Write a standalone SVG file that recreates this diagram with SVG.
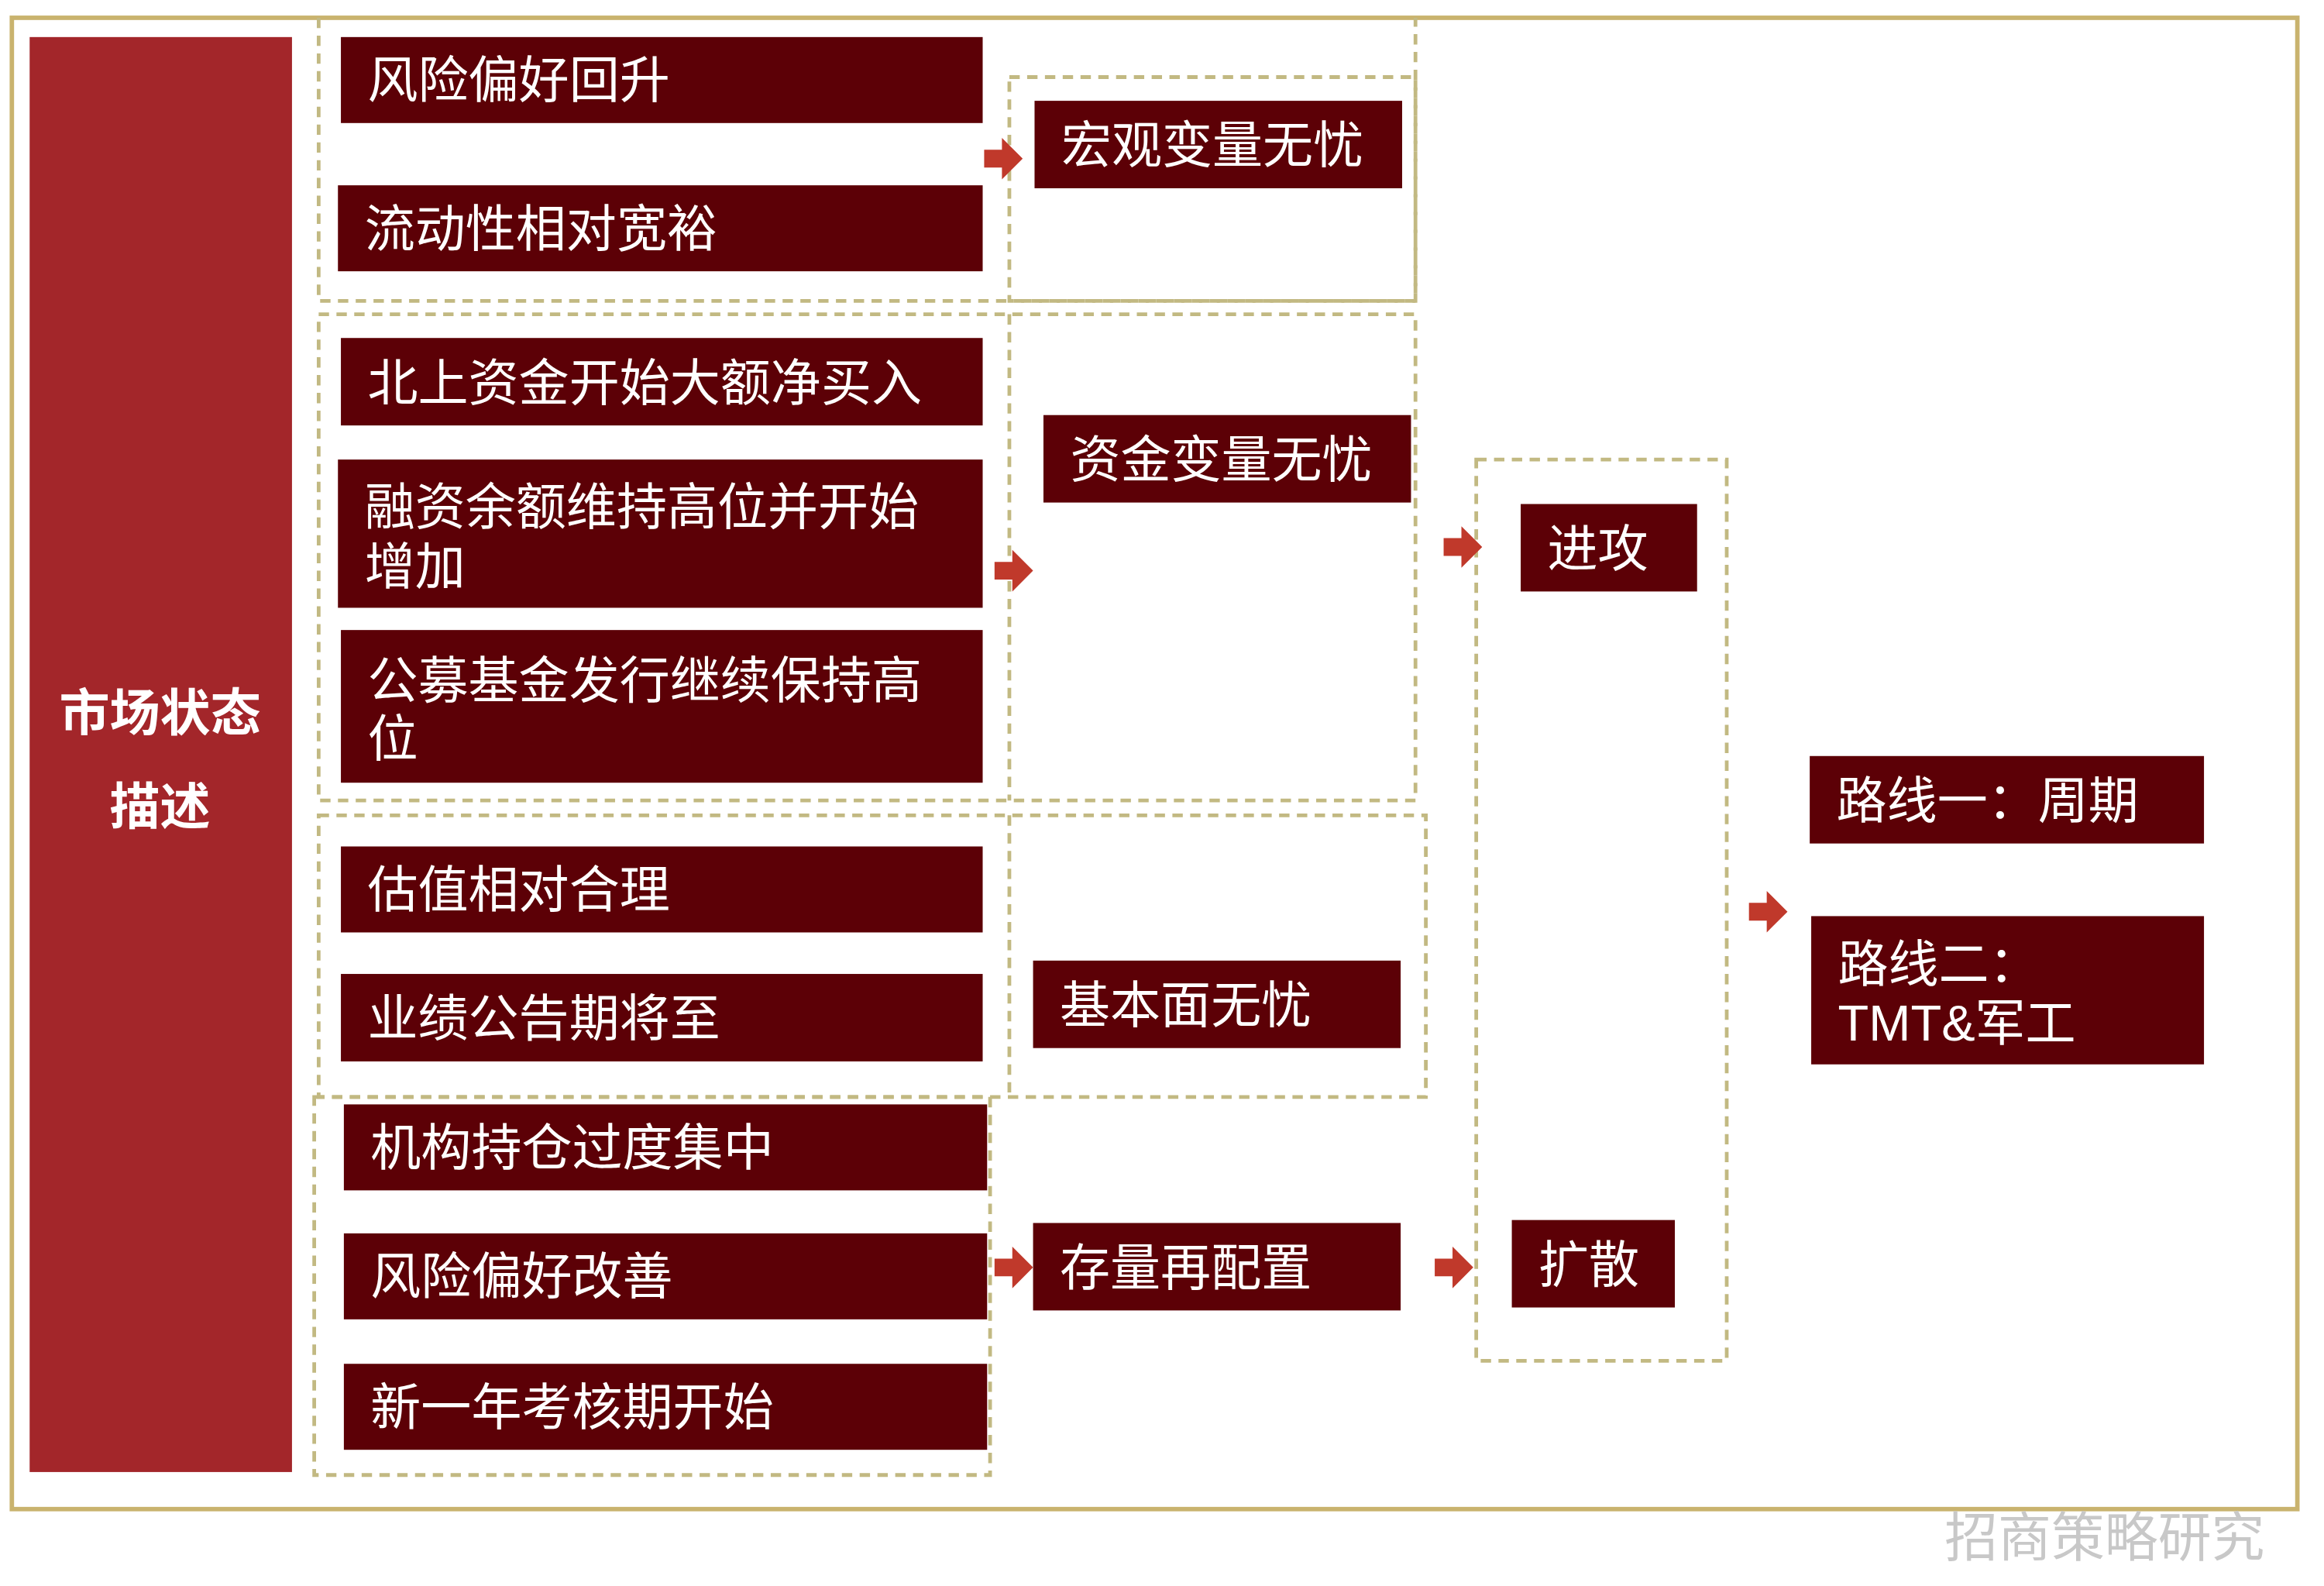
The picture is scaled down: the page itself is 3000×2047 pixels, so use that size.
<svg xmlns="http://www.w3.org/2000/svg" width="3000" height="2047" viewBox="0 0 3000 2047">
<style>
.b{fill:#5c0006}
.t{fill:#fff;font-family:"Liberation Sans","Noto Sans CJK SC",sans-serif;font-size:34px}
.d{fill:none;stroke:#c2b982;stroke-width:2.5;stroke-dasharray:7 5}
.a{fill:#c0392b}
</style>
<defs><path id="ar" d="M0,-6 H12 V-14 L26,0 L12,14 V6 H0 Z"/></defs>
<rect width="3000" height="2047" fill="#fff"/>
<g transform="scale(1.9133)">
<rect x="8" y="12" width="1542" height="1006" fill="none" stroke="#c9b36e" stroke-width="3"/>
<g id="main"><rect x="20" y="25" width="177" height="968" fill="#a3262a"/>
<text class="t" x="108" y="493" text-anchor="middle" font-weight="bold" font-size="34">市场状态</text>
<text class="t" x="108" y="556" text-anchor="middle" font-weight="bold" font-size="34">描述</text></g>
<g id="frames">
<path class="d" d="M215,12 V203 H955 V12"/>
<rect class="d" x="681" y="52" width="274" height="151"/>
<rect class="d" x="215" y="212" width="740" height="328"/>
<path class="d" d="M681,212 V540"/>
<rect class="d" x="215" y="550" width="747" height="190"/>
<path class="d" d="M681,550 V740"/>
<rect class="d" x="212" y="740" width="456" height="255"/>
<rect class="d" x="996" y="310" width="169" height="608"/>
</g>
<g id="n1"><rect class="b" x="230" y="25" width="433" height="58"/><text class="t" x="248" y="66">风险偏好回升</text></g>
<g id="n2"><rect class="b" x="228" y="125" width="435" height="58"/><text class="t" x="246" y="166">流动性相对宽裕</text></g>
<g id="n3"><rect class="b" x="230" y="228" width="433" height="59"/><text class="t" x="248" y="270">北上资金开始大额净买入</text></g>
<g id="n4"><rect class="b" x="228" y="310" width="435" height="100"/><text class="t" x="246" y="354">融资余额维持高位并开始</text><text class="t" x="246" y="394">增加</text></g>
<g id="n5"><rect class="b" x="230" y="425" width="433" height="103"/><text class="t" x="248" y="471">公募基金发行继续保持高</text><text class="t" x="248" y="510">位</text></g>
<g id="n6"><rect class="b" x="230" y="571" width="433" height="58"/><text class="t" x="248" y="612">估值相对合理</text></g>
<g id="n7"><rect class="b" x="230" y="657" width="433" height="59"/><text class="t" x="248" y="699">业绩公告期将至</text></g>
<g id="n8"><rect class="b" x="232" y="745" width="434" height="58"/><text class="t" x="250" y="786">机构持仓过度集中</text></g>
<g id="n9"><rect class="b" x="232" y="832" width="434" height="58"/><text class="t" x="250" y="873">风险偏好改善</text></g>
<g id="n10"><rect class="b" x="232" y="920" width="434" height="58"/><text class="t" x="250" y="961">新一年考核期开始</text></g>
<g id="m1"><rect class="b" x="698" y="68" width="248" height="59"/><text class="t" x="716" y="110">宏观变量无忧</text></g>
<g id="m2"><rect class="b" x="704" y="280" width="248" height="59"/><text class="t" x="722" y="322">资金变量无忧</text></g>
<g id="m3"><rect class="b" x="697" y="648" width="248" height="59"/><text class="t" x="715" y="690">基本面无忧</text></g>
<g id="m4"><rect class="b" x="697" y="825" width="248" height="59"/><text class="t" x="715" y="867">存量再配置</text></g>
<g id="g1"><rect class="b" x="1026" y="340" width="119" height="59"/><text class="t" x="1044" y="382">进攻</text></g>
<g id="g2"><rect class="b" x="1020" y="823" width="110" height="59"/><text class="t" x="1038" y="865">扩散</text></g>
<g id="r1"><rect class="b" x="1221" y="510" width="266" height="59"/><text class="t" x="1239" y="552">路线一：周期</text></g>
<g id="r2"><rect class="b" x="1222" y="618" width="265" height="100"/><text class="t" x="1240" y="662">路线二：</text><text class="t" x="1240" y="702">TMT&amp;军工</text></g>
<g id="connectors">
<use href="#ar" class="a" x="664" y="107"/>
<use href="#ar" class="a" x="671" y="385"/>
<use href="#ar" class="a" x="974" y="369"/>
<use href="#ar" class="a" x="1180" y="615"/>
<use href="#ar" class="a" x="671" y="855"/>
<use href="#ar" class="a" x="968" y="855"/>
</g>
<text x="1312" y="1050" font-family="Noto Sans CJK SC,sans-serif" font-size="36" fill="#c8c8c8">招商策略研究</text>
</g>
</svg>
